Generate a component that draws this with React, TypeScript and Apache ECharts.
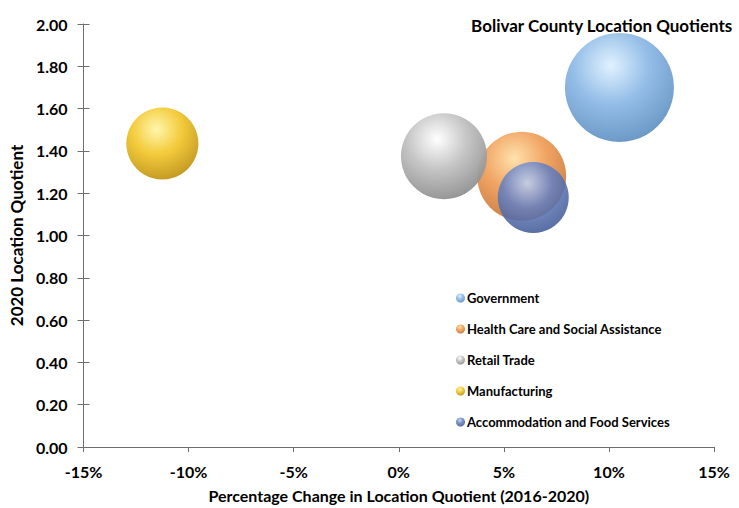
import React, { useEffect, useRef } from "react";
import * as echarts from "echarts";

const industries = [
  "Government",
  "Health Care and Social Assistance",
  "Retail Trade",
  "Manufacturing",
  "Accommodation and Food Services",
];
const pctChange = [10.5, 5.85, 2.15, -11.25, 6.4];
const locationQuotient = [1.7, 1.28, 1.375, 1.435, 1.18];
const bubbleSize = [2970, 1980, 1850, 1300, 1260];
const xTicks = [-15, -10, -5, 0, 5, 10, 15];

const palette = [
  { hi: "#dff1ff", mid: "#8ebae6", lo: "#5c8cbd" },
  { hi: "#ffe0a8", mid: "#f0a05c", lo: "#c07238" },
  { hi: "#ffffff", mid: "#c2c2c2", lo: "#878787" },
  { hi: "#fff6a8", mid: "#f2c830", lo: "#b88c14" },
  { hi: "#c0d0f0", mid: "#6680c0", lo: "#3c548e" },
];

const FONT = "Lato, 'Noto Sans', sans-serif";
const AXIS_COLOR = "#6f6f6f";

export default function App() {
  const ref = useRef<HTMLDivElement>(null);
  useEffect(() => {
    if (!ref.current) return;
    const chart = echarts.init(ref.current, undefined, { renderer: "svg" });
    const series = industries.map((name, i) => ({
      name,
      type: "scatter",
      yAxisIndex: 0,
      data: [[pctChange[i], locationQuotient[i], bubbleSize[i]]],
      symbolSize: (v: number[]) => 2 * Math.sqrt(v[2]),
      itemStyle: {
        color: new echarts.graphic.RadialGradient(0.42, 0.3, 0.78, [
          { offset: 0, color: palette[i].hi },
          { offset: 0.45, color: palette[i].mid },
          { offset: 1, color: palette[i].lo },
        ]),
        opacity: i === 4 ? 0.88 : 0.95,
      },
      z: 2 + i,
    }));
    const yBase = {
      type: "value",
      min: 0,
      max: 2,
      interval: 0.2,
      position: "left",
      splitLine: { show: false },
    };
    chart.setOption({
      animation: false,
      backgroundColor: "#ffffff",
      textStyle: { fontFamily: FONT },
      title: {
        text: "Bolivar County Location Quotients",
        right: 1,
        top: 12,
        textStyle: { fontFamily: FONT, fontSize: 17, fontWeight: "bold", color: "#000" },
      },
      legend: {
        orient: "vertical",
        left: 451,
        top: 285,
        itemGap: 15,
        itemWidth: 9,
        itemHeight: 9,
        icon: "circle",
        data: industries,
        textStyle: {
          fontFamily: FONT,
          fontSize: 13,
          fontWeight: "bold",
          color: "#000",
          padding: [0, 0, 0, -3],
          lineHeight: 16,
        },
      },
      grid: { left: 83, right: 25, top: 24, bottom: 61, containLabel: false },
      xAxis: {
        type: "value",
        min: -15,
        max: 15,
        interval: 5,
        name: "Percentage Change in Location Quotient (2016-2020)",
        nameLocation: "middle",
        nameGap: 40,
        nameTextStyle: { fontFamily: FONT, fontSize: 16, fontWeight: "bold", color: "#000" },
        axisLine: { show: true, onZero: false, lineStyle: { color: AXIS_COLOR, width: 1 } },
        axisTick: { show: true, inside: false, length: 5, lineStyle: { color: AXIS_COLOR } },
        axisLabel: {
          formatter: (v: number) => (xTicks.includes(v) ? `${v}%` : ""),
          fontFamily: FONT,
          fontSize: 16,
          fontWeight: "bold",
          color: "#000",
          margin: 16,
        },
        splitLine: { show: false },
      },
      yAxis: [
        {
          ...yBase,
          name: "2020 Location Quotient",
          nameLocation: "middle",
          nameGap: 58,
          nameTextStyle: { fontFamily: FONT, fontSize: 17, fontWeight: "bold", color: "#000" },
          axisLine: { show: true, onZero: false, lineStyle: { color: AXIS_COLOR, width: 1 } },
          axisTick: { show: true, inside: false, length: 6, lineStyle: { color: AXIS_COLOR } },
          axisLabel: {
            formatter: (v: number) => v.toFixed(2),
            fontFamily: FONT,
            fontSize: 16,
            fontWeight: "bold",
            color: "#000",
            margin: 16,
          },
        },
        {
          ...yBase,
          axisLine: { show: false, onZero: false },
          axisTick: { show: true, inside: true, length: 6, lineStyle: { color: AXIS_COLOR } },
          axisLabel: { show: false },
        },
      ],
      series,
    });
    return () => chart.dispose();
  }, []);
  return <div ref={ref} style={{ width: 739, height: 508, position: "absolute", left: 0, top: 0 }} />;
}
